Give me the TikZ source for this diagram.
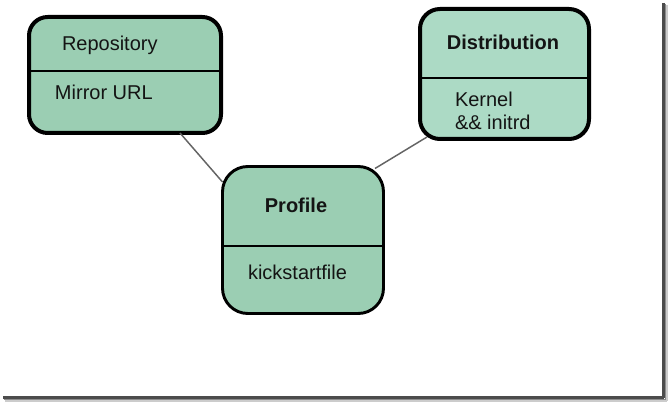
\documentclass[tikz,border=0pt]{standalone}
\usepackage{fontspec}
\setmainfont{Liberation Sans}
\definecolor{repofill}{RGB}{155,206,179}
\definecolor{distfill}{RGB}{172,218,197}
\definecolor{proffill}{RGB}{155,206,179}
\definecolor{txt}{RGB}{20,20,20}
\definecolor{conn}{RGB}{100,100,100}
\begin{document}
\begin{tikzpicture}[x=0.75pt,y=-0.75pt,
  box/.style={draw=black,rectangle,inner sep=0pt,outer sep=0pt},
  lbl/.style={inner sep=0pt,outer sep=0pt,text=txt,font=\fontsize{15}{18}\selectfont},
  link/.style={draw=conn,line width=1.1pt}]
\useasboundingbox (0,0) rectangle (668,402);
\fill[white] (0,0) rectangle (668,402);
% frame shadow
\draw[black!70,line width=1.6pt] (663.5,3) -- (663.5,398);
\draw[black!45,line width=1pt] (665.5,4) -- (665.5,400);
\draw[black!20,line width=1pt] (667,5) -- (667,401);
\draw[black!70,line width=1.6pt] (3,397.5) -- (663.5,397.5);
\draw[black!45,line width=1pt] (4,399.5) -- (665.5,399.5);
\draw[black!20,line width=1pt] (5,401) -- (667,401);
% boxes
\node[box,fill=repofill,line width=3pt,rounded corners=14pt,minimum width=192*0.75pt,minimum height=116*0.75pt] (repo) at (125,75) {};
\node[box,fill=distfill,line width=3pt,rounded corners=15pt,minimum width=169*0.75pt,minimum height=130*0.75pt] (dist) at (504.5,74) {};
\node[box,fill=proffill,line width=2.2pt,rounded corners=19pt,minimum width=161*0.75pt,minimum height=147*0.75pt] (prof) at (303,240) {};
% connectors
\draw[link] ([xshift=55*0.75pt]repo.south) -- ([yshift=58*0.75pt]prof.west);
\draw[link] ([xshift=-77.5*0.75pt,yshift=2*0.75pt]dist.south) -- ([xshift=72*0.75pt,yshift=-2*0.75pt]prof.north);
% dividers
\draw[black,line width=1pt] (repo.west |- 0,71) -- (repo.east |- 0,71);
\draw[black,line width=1pt] (dist.west |- 0,78) -- (dist.east |- 0,78);
\draw[black,line width=1pt] (prof.west |- 0,246) -- (prof.east |- 0,246);
% texts
\node[lbl,anchor=base west] (t1) at (62,51) {Repository};
\node[lbl,anchor=base west] (t2) at (55,100) {Mirror URL};
\node[lbl,anchor=base,font=\fontsize{15}{18}\selectfont\bfseries] (t3) at (503,50) {Distribution};
\node[lbl,anchor=base west] (t4) at (455,107) {Kernel};
\node[lbl,anchor=base west] (t5) at (455,130) {\&\& initrd};
\node[lbl,anchor=base,font=\fontsize{15}{18}\selectfont\bfseries] (t6) at (296,213) {Profile};
\node[lbl,anchor=base west] (t7) at (248,280) {kickstartfile};
\end{tikzpicture}
\end{document}
